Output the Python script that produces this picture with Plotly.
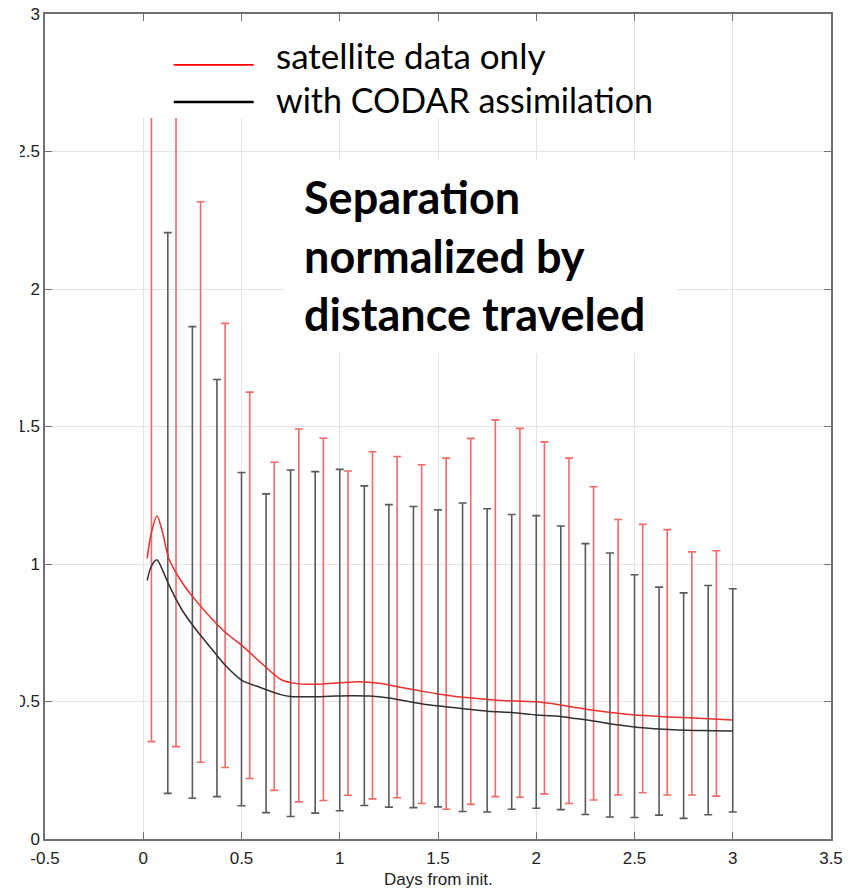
import plotly.graph_objects as go

# ---------------- data ----------------
# mean curves (days from init, normalized separation)
sat_days = [0.02, 0.04, 0.07, 0.10, 0.13, 0.20, 0.27, 0.35, 0.42, 0.50, 0.60, 0.70, 0.78,
            0.90, 1.00, 1.10, 1.20, 1.30, 1.40, 1.50, 1.60, 1.70, 1.80, 1.90, 2.00, 2.10,
            2.20, 2.30, 2.40, 2.50, 2.60, 2.70, 2.80, 2.90, 3.00]
sat_mean = [1.02, 1.11, 1.175, 1.11, 1.02, 0.93, 0.865, 0.80, 0.75, 0.705, 0.64, 0.58, 0.565,
            0.563, 0.568, 0.572, 0.566, 0.553, 0.54, 0.527, 0.517, 0.511, 0.505, 0.502, 0.499, 0.49,
            0.478, 0.467, 0.458, 0.451, 0.447, 0.443, 0.44, 0.436, 0.433]

codar_days = [0.02, 0.04, 0.07, 0.10, 0.13, 0.20, 0.27, 0.35, 0.42, 0.50, 0.60, 0.70, 0.75,
              0.85, 0.95, 1.05, 1.15, 1.25, 1.35, 1.45, 1.55, 1.65, 1.75, 1.85, 1.95, 2.00,
              2.10, 2.20, 2.30, 2.40, 2.50, 2.60, 2.70, 2.80, 2.90, 3.00]
codar_mean = [0.94, 0.99, 1.015, 0.975, 0.925, 0.83, 0.76, 0.69, 0.63, 0.578, 0.55, 0.525, 0.518,
              0.517, 0.519, 0.521, 0.52, 0.513, 0.50, 0.488, 0.48, 0.472, 0.465, 0.461, 0.455, 0.451,
              0.447, 0.438, 0.428, 0.416, 0.407, 0.401, 0.397, 0.395, 0.394, 0.393]

# error bars (satellite only)
sat_bar_days = [0.0417, 0.1667, 0.2917, 0.4167, 0.5417, 0.6667, 0.7917, 0.9167, 1.0417, 1.1667,
                1.2917, 1.4167, 1.5417, 1.6667, 1.7917, 1.9167, 2.0417, 2.1667, 2.2917, 2.4167,
                2.5417, 2.6667, 2.7917, 2.9167]
sat_upper = [2.95, 2.85, 2.317, 1.875, 1.625, 1.37, 1.491, 1.457, 1.338, 1.408,
             1.391, 1.361, 1.385, 1.457, 1.524, 1.493, 1.444, 1.385, 1.281, 1.162,
             1.144, 1.125, 1.044, 1.048]
sat_lower = [0.354, 0.336, 0.279, 0.26, 0.22, 0.177, 0.135, 0.14, 0.159, 0.146,
             0.15, 0.129, 0.108, 0.126, 0.154, 0.152, 0.164, 0.129, 0.142, 0.16,
             0.168, 0.16, 0.16, 0.156]

# error bars (with CODAR assimilation)
codar_bar_days = [0.125, 0.25, 0.375, 0.5, 0.625, 0.75, 0.875, 1.0, 1.125, 1.25,
                  1.375, 1.5, 1.625, 1.75, 1.875, 2.0, 2.125, 2.25, 2.375, 2.5,
                  2.625, 2.75, 2.875, 3.0]
codar_upper = [2.205, 1.863, 1.671, 1.333, 1.255, 1.342, 1.336, 1.344, 1.284, 1.216,
               1.209, 1.197, 1.222, 1.201, 1.18, 1.176, 1.138, 1.074, 1.04, 0.961,
               0.916, 0.895, 0.922, 0.91]
codar_lower = [0.166, 0.148, 0.154, 0.121, 0.096, 0.082, 0.094, 0.103, 0.122, 0.116,
               0.114, 0.117, 0.10, 0.098, 0.108, 0.112, 0.107, 0.089, 0.08, 0.078,
               0.087, 0.075, 0.088, 0.098]

x_ticks = [-0.5, 0, 0.5, 1, 1.5, 2, 2.5, 3, 3.5]
x_tick_labels = ['-0.5', '0', '0.5', '1', '1.5', '2', '2.5', '3', '3.5']
y_ticks = [0, 0.5, 1, 1.5, 2, 2.5, 3]
y_tick_labels = ['0', '0.5', '1', '1.5', '2', '2.5', '3']

legend_labels = ['satellite data only', 'with CODAR assimilation']
title_lines = ['Separation', 'normalized by', 'distance traveled']
x_title = 'Days from init.'

# ---------------- styles ----------------
RED_BAR = '#f06a6a'
RED_LINE = '#e83030'
BLK_BAR = '#5a5a5a'
BLK_LINE = '#303030'
AXIS = '#707070'
GRID = '#e4e4e4'
TICKFONT = dict(family='Liberation Sans, Arial, sans-serif', size=17, color='#222222')


def bar_trace(xs, lo, hi, color):
    return go.Scatter(
        x=xs, y=lo, mode='markers',
        marker=dict(size=1, color='rgba(0,0,0,0)'),
        error_y=dict(type='data', symmetric=False,
                     array=[h - l for h, l in zip(hi, lo)],
                     arrayminus=[0] * len(lo),
                     color=color, thickness=1.6, width=4),
        showlegend=False, hoverinfo='skip')


fig = go.Figure()
fig.add_trace(bar_trace(codar_bar_days, codar_lower, codar_upper, BLK_BAR))
fig.add_trace(bar_trace(sat_bar_days, sat_lower, sat_upper, RED_BAR))
fig.add_trace(go.Scatter(x=codar_days, y=codar_mean, mode='lines', line=dict(color=BLK_LINE, width=1.5, shape='spline', smoothing=0.8), showlegend=False))
fig.add_trace(go.Scatter(x=sat_days, y=sat_mean, mode='lines', line=dict(color=RED_LINE, width=1.5, shape='spline', smoothing=0.8), showlegend=False))

shapes = []
# white mask that crops the left part of the tick labels
shapes.append(dict(type='rect', xref='paper', yref='paper', x0=-0.06, x1=-0.0318, y0=0.05, y1=0.93,
                   fillcolor='white', line=dict(width=0), layer='above'))
# white legend box
shapes.append(dict(type='rect', xref='x', yref='y', x0=-0.449, x1=2.46, y0=2.622, y1=2.971,
                   fillcolor='white', line=dict(width=0), layer='above'))
# white title box
shapes.append(dict(type='rect', xref='x', yref='y', x0=0.721, x1=2.716, y0=1.767, y1=2.469,
                   fillcolor='white', line=dict(width=0), layer='above'))
# legend line samples
shapes.append(dict(type='line', xref='x', yref='y', x0=0.155, x1=0.562, y0=2.815, y1=2.815,
                   line=dict(color='#ff0000', width=1.8), layer='above'))
shapes.append(dict(type='line', xref='x', yref='y', x0=0.155, x1=0.562, y0=2.68, y1=2.68,
                   line=dict(color='#000000', width=2.5), layer='above'))

annotations = [
    dict(x=0.665, y=2.85, xref='x', yref='y', text=legend_labels[0], showarrow=False,
         xanchor='left', yanchor='middle', font=dict(family='Lato, sans-serif', size=35, color='black')),
    dict(x=0.665, y=2.69, xref='x', yref='y', text=legend_labels[1], showarrow=False,
         xanchor='left', yanchor='middle', font=dict(family='Lato, sans-serif', size=34, color='black')),
    dict(x=0.81, y=2.122, xref='x', yref='y', text='<br>'.join(title_lines), showarrow=False,
         xanchor='left', yanchor='middle', align='left',
         font=dict(family='Lato, sans-serif', size=45, color='black', weight='bold')),
    dict(x=0.5, y=-0.049, xref='paper', yref='paper', text=x_title, showarrow=False,
         xanchor='center', yanchor='middle',
         font=dict(family='Liberation Sans, Arial, sans-serif', size=17, color='#222222')),
]

axis_common = dict(showgrid=True, gridcolor=GRID, gridwidth=1, zeroline=False,
                   showline=True, linecolor=AXIS, linewidth=1.5, mirror='ticks',
                   ticks='inside', ticklen=7, tickwidth=1.2, tickcolor=AXIS,
                   tickfont=TICKFONT, automargin=False)

fig.update_layout(
    width=852, height=890,
    margin=dict(l=45, r=21, t=14, b=51),
    paper_bgcolor='white', plot_bgcolor='white',
    xaxis=dict(range=[-0.5, 3.5], tickvals=x_ticks, ticktext=x_tick_labels, ticklabelstandoff=3,
               **axis_common),
    yaxis=dict(range=[0, 3], tickvals=y_ticks, ticktext=y_tick_labels, **axis_common),
    shapes=shapes, annotations=annotations, showlegend=False,
)

fig.write_html('out.html')
